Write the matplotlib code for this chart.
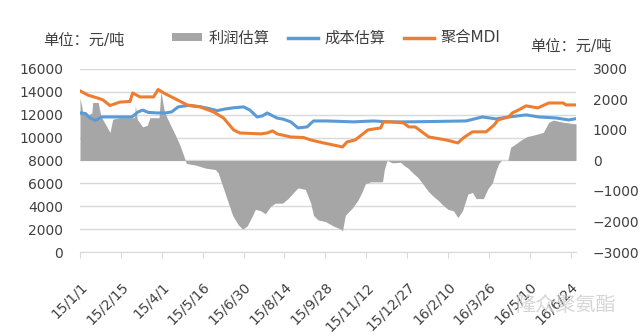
import datetime as dt
import numpy as np
import matplotlib.pyplot as plt
from matplotlib.patches import Patch
from matplotlib.lines import Line2D

plt.rcParams['font.family'] = ['DejaVu Sans', 'Noto Sans CJK SC']

# 利润估算 (right axis, 元/吨)
profit_dates = [
    "2015-01-01", "2015-01-04", "2015-01-10", "2015-01-14", "2015-01-15", "2015-01-21",
    "2015-01-24", "2015-02-03", "2015-02-06", "2015-02-14", "2015-03-02", "2015-03-03",
    "2015-03-05", "2015-03-11", "2015-03-16", "2015-03-19", "2015-03-29", "2015-03-31",
    "2015-04-04", "2015-04-06", "2015-04-10", "2015-04-16", "2015-04-21", "2015-04-27",
    "2015-04-28", "2015-05-08", "2015-05-19", "2015-05-30", "2015-06-02", "2015-06-10",
    "2015-06-18", "2015-06-24", "2015-06-29", "2015-07-04", "2015-07-10", "2015-07-13",
    "2015-07-19", "2015-07-24", "2015-07-30", "2015-08-04", "2015-08-12", "2015-08-18",
    "2015-08-24", "2015-08-29", "2015-09-06", "2015-09-12", "2015-09-15", "2015-09-20",
    "2015-09-28", "2015-10-07", "2015-10-15", "2015-10-17", "2015-10-20", "2015-10-28",
    "2015-11-03", "2015-11-08", "2015-11-11", "2015-11-17", "2015-11-30", "2015-12-02",
    "2015-12-05", "2015-12-11", "2015-12-20", "2015-12-23", "2015-12-28", "2016-01-02",
    "2016-01-08", "2016-01-13", "2016-01-19", "2016-01-24", "2016-01-30", "2016-02-04",
    "2016-02-10", "2016-02-16", "2016-02-21", "2016-02-26", "2016-03-03", "2016-03-08",
    "2016-03-12", "2016-03-20", "2016-03-25", "2016-03-30", "2016-04-03", "2016-04-06",
    "2016-04-09", "2016-04-16", "2016-04-19", "2016-04-25", "2016-04-30", "2016-05-07",
    "2016-05-14", "2016-05-19", "2016-05-25", "2016-05-31", "2016-06-05", "2016-06-16",
    "2016-06-24", "2016-06-30",
]
profit = [
    2050, 1600, 1500, 1550, 1900, 1900,
    1450, 920, 1350, 1400, 1400, 1800,
    1350, 1100, 1150, 1400, 1400, 2250,
    1600, 1450, 1200, 830, 500, 0,
    -100, -150, -250, -300, -400, -1100,
    -1800, -2100, -2250, -2150, -1800, -1600,
    -1650, -1750, -1500, -1400, -1400, -1250,
    -1050, -900, -950, -1400, -1800, -1950,
    -2000, -2150, -2250, -2300, -1800, -1550,
    -1300, -1000, -770, -700, -700, -300,
    0, -80, -60, -150, -250, -400,
    -560, -750, -1000, -1150, -1300, -1450,
    -1600, -1650, -1870, -1650, -1100, -1050,
    -1250, -1250, -930, -730, -330, -100,
    0, 0, 430, 550, 660, 780,
    830, 870, 920, 1250, 1320, 1250,
    1220, 1200,
]

# 成本估算 (left axis)
cost_dates = [
    "2015-01-01", "2015-01-07", "2015-01-12", "2015-01-18", "2015-01-25", "2015-02-05",
    "2015-02-27", "2015-03-06", "2015-03-11", "2015-03-17", "2015-03-27", "2015-04-05",
    "2015-04-12", "2015-04-19", "2015-04-30", "2015-05-13", "2015-05-22", "2015-06-01",
    "2015-06-10", "2015-06-19", "2015-06-30", "2015-07-07", "2015-07-15", "2015-07-21",
    "2015-07-26", "2015-08-06", "2015-08-13", "2015-08-21", "2015-08-29", "2015-09-08",
    "2015-09-15", "2015-09-30", "2015-10-29", "2015-11-20", "2015-12-06", "2015-12-28",
    "2016-01-22", "2016-03-01", "2016-03-19", "2016-04-03", "2016-04-17", "2016-05-06",
    "2016-05-20", "2016-06-08", "2016-06-22", "2016-06-30",
]
cost = [
    12150, 12100, 11700, 11500, 11800, 11800,
    11800, 12240, 12400, 12200, 12150, 12150,
    12240, 12680, 12800, 12700, 12550, 12350,
    12500, 12600, 12680, 12400, 11800, 11900,
    12150, 11700, 11600, 11370, 10840, 10930,
    11450, 11450, 11370, 11450, 11370, 11370,
    11400, 11450, 11800, 11630, 11800, 11980,
    11800, 11710, 11540, 11650,
]

# 聚合MDI price (left axis)
mdi_dates = [
    "2015-01-01", "2015-01-10", "2015-01-20", "2015-01-26", "2015-02-03", "2015-02-14",
    "2015-02-25", "2015-02-28", "2015-03-08", "2015-03-23", "2015-03-28", "2015-04-03",
    "2015-04-14", "2015-04-29", "2015-05-13", "2015-05-28", "2015-06-08", "2015-06-19",
    "2015-06-26", "2015-07-19", "2015-07-26", "2015-08-01", "2015-08-06", "2015-08-21",
    "2015-09-04", "2015-09-12", "2015-09-26", "2015-10-17", "2015-10-22", "2015-10-31",
    "2015-11-14", "2015-11-28", "2015-12-01", "2015-12-09", "2015-12-23", "2015-12-29",
    "2016-01-05", "2016-01-20", "2016-02-08", "2016-02-21", "2016-02-27", "2016-03-08",
    "2016-03-23", "2016-04-01", "2016-04-05", "2016-04-17", "2016-04-21", "2016-04-28",
    "2016-05-06", "2016-05-19", "2016-05-31", "2016-06-16", "2016-06-19", "2016-06-30",
]
mdi = [
    14080, 13700, 13460, 13300, 12800, 13100,
    13150, 13900, 13550, 13550, 14200, 13900,
    13460, 12850, 12680, 12240, 11710, 10670,
    10400, 10320, 10400, 10580, 10320, 10050,
    10000, 9790, 9530, 9180, 9620, 9790,
    10670, 10840, 11370, 11370, 11280, 10930,
    10930, 10050, 9790, 9530, 9970, 10500,
    10500, 11100, 11540, 11800, 12150, 12420,
    12770, 12590, 13020, 13020, 12850, 12850,
]

tick_start = "2015-01-01"
tick_step_days = 45
n_ticks = 13

to_dt = lambda s: [dt.datetime.strptime(d, "%Y-%m-%d") for d in s]
pd_x, cd_x, md_x = to_dt(profit_dates), to_dt(cost_dates), to_dt(mdi_dates)

grey = "#a6a6a6"
blue = "#5b9bd5"
orange = "#ed7d31"
text_c = "#404040"

fig = plt.figure(figsize=(6.4, 3.36), dpi=100)
ax = fig.add_axes([0.125, 0.25, 0.775, 0.545])
ax_r = ax.twinx()
ax_l = ax.twinx()

# background axis: gridlines + left scale
ax.set_ylim(0, 16000)
ax.set_yticks(np.arange(0, 16001, 2000))
ax.grid(axis="y", color="#d9d9d9", linewidth=1)
ax.set_axisbelow(True)

# profit area on the right scale
ax_r.fill_between(pd_x, profit, 0, color=grey, linewidth=0)
ax_r.set_ylim(-3000, 3000)
ax_r.set_yticks(np.arange(-3000, 3001, 1000))

# price lines on a copy of the left scale
ax_l.plot(cd_x, cost, color=blue, linewidth=2.2)
ax_l.plot(md_x, mdi, color=orange, linewidth=2.2)
ax_l.set_ylim(0, 16000)
ax_l.set_yticks([])

start = dt.datetime.strptime(tick_start, "%Y-%m-%d")
ticks = [start + dt.timedelta(days=tick_step_days * i) for i in range(n_ticks)]
for a in (ax, ax_r, ax_l):
    a.set_xlim(pd_x[0], pd_x[-1])
    for s in a.spines.values():
        s.set_visible(False)
ax.spines["bottom"].set_visible(True)
ax.spines["bottom"].set_color("#d9d9d9")
ax.set_xticks(ticks)
ax.set_xticklabels([f"{d.year % 100}/{d.month}/{d.day}" for d in ticks],
                   rotation=45, ha="right", rotation_mode="anchor")
ax.tick_params(axis="x", length=4, color="#d9d9d9", pad=16, labelsize=10, labelcolor=text_c)
ax.tick_params(axis="y", length=0, pad=12, labelsize=10, labelcolor=text_c)
ax_r.tick_params(axis="y", length=0, pad=12, labelsize=10, labelcolor=text_c)

fig.text(0.067, 0.88, "单位：元/吨", fontsize=11, color=text_c, va="center")
fig.text(0.828, 0.862, "单位：元/吨", fontsize=11, color=text_c, va="center")

handles = [
    Patch(facecolor=grey, edgecolor="none"),
    Line2D([], [], color=blue, linewidth=2.5),
    Line2D([], [], color=orange, linewidth=2.5),
]
fig.legend(handles, ["利润估算", "成本估算", "聚合MDI"], ncol=3, frameon=False,
           loc="center", bbox_to_anchor=(0.525, 0.887), fontsize=11,
           handlelength=2.0, handleheight=0.5, handletextpad=0.4,
           columnspacing=1.2, labelcolor=text_c)

fig.text(0.805, 0.092, "隆众聚氨酯", fontsize=14.5, color="#cccccc", alpha=0.8, va="center")

fig.savefig("out.png", dpi=100)
